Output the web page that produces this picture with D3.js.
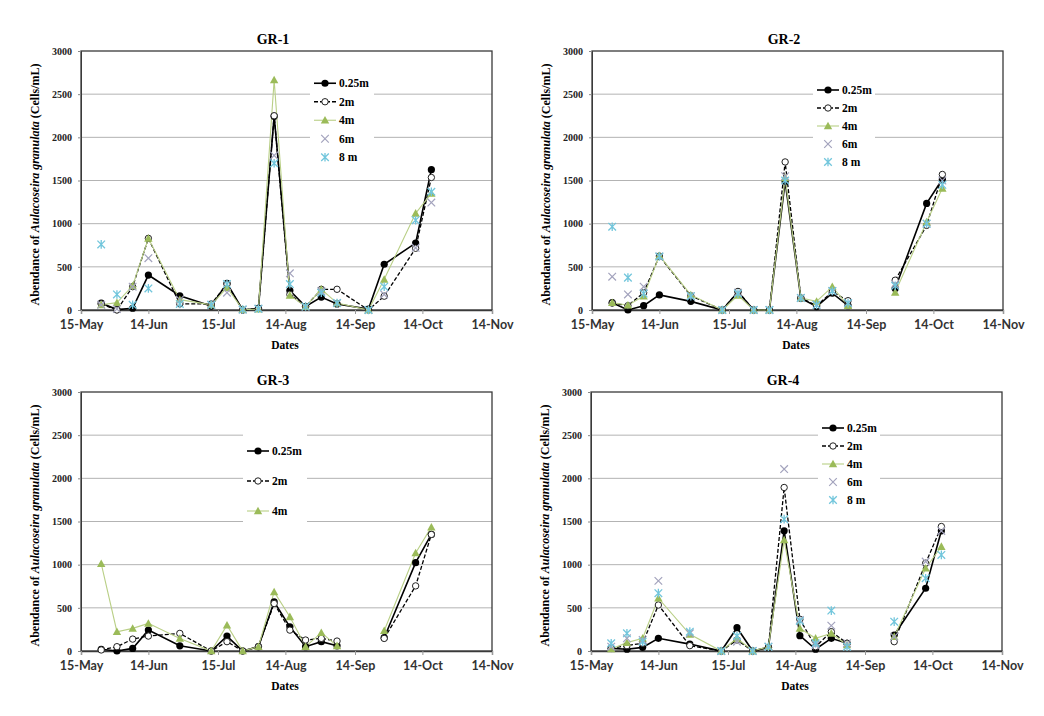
<!DOCTYPE html>
<html><head><meta charset="utf-8">
<script src="https://cdn.jsdelivr.net/npm/d3@7"></script>
<style>
body{margin:0;background:#fff;}
svg{display:block;}
</style></head>
<body>
<svg id="chart" width="1044" height="716"></svg>
<script>
// ---- data ----
const sampleDates = ["2013-05-24","2013-05-31","2013-06-07","2013-06-14","2013-06-28","2013-07-12","2013-07-19","2013-07-26","2013-08-02","2013-08-09","2013-08-16","2013-08-23","2013-08-30","2013-09-06","2013-09-20","2013-09-27","2013-10-11","2013-10-18"];
const tickDates = ["2013-05-15","2013-06-14","2013-07-15","2013-08-14","2013-09-14","2013-10-14","2013-11-14"];
const yTicks = [0,500,1000,1500,2000,2500,3000];
const depthNames = ["0.25m","2m","4m","6m","8 m"];
const panelTitles = ["GR-1","GR-2","GR-3","GR-4"];

const gr1_025 = [80,5,20,405,165,45,310,0,20,2245,225,40,150,70,10,530,775,1625];
const gr1_2m  = [70,0,270,830,70,70,300,0,20,2250,180,40,240,240,0,160,715,1535];
const gr1_4m  = [60,85,280,830,120,60,260,5,10,2665,170,40,240,80,0,355,1120,1350];
const gr1_6m  = [60,10,270,600,120,60,200,5,15,1790,425,40,220,80,0,180,720,1245];
const gr1_8m  = [760,180,60,250,70,60,300,5,15,1700,300,40,200,80,0,270,1040,1370];

const gr2_025 = [85,0,50,175,100,0,210,0,0,1490,135,40,195,50,null,250,1235,1515];
const gr2_2m  = [80,50,200,625,165,0,215,0,0,1715,140,50,210,108,null,345,980,1570];
const gr2_4m  = [85,55,160,630,175,0,170,0,0,1530,140,100,270,50,null,205,1020,1410];
const gr2_6m  = [386,180,270,620,160,0,200,0,0,1550,140,60,220,80,null,300,1000,1500];
const gr2_8m  = [965,375,190,620,160,0,190,0,0,1500,140,60,220,80,null,280,1000,1450];

const gr3_025 = [20,0,30,242,60,0,173,0,50,570,280,50,108,60,null,154,1023,1350];
const gr3_2m  = [12,50,138,173,204,0,108,0,50,550,242,127,146,115,null,146,754,1350];
const gr3_4m  = [1012,223,262,320,146,0,300,0,50,685,396,50,212,60,null,235,1135,1435];

const gr4_025 = [30,20,42,147,80,0,270,0,42,1392,178,20,147,90,null,185,727,1392];
const gr4_2m  = [30,62,90,533,62,0,128,0,42,1894,367,50,224,90,null,108,1017,1442];
const gr4_4m  = [23,97,147,611,193,0,147,0,50,1287,263,147,205,70,null,166,959,1210];
const gr4_6m  = [50,147,128,812,205,0,108,0,50,2107,360,70,294,90,null,166,1036,1390];
const gr4_8m  = [90,205,108,670,224,0,174,0,50,1527,348,90,468,50,null,340,843,1113];

// ---- styles ----
const parse = d3.timeParse("%Y-%m-%d");
const dates = sampleDates.map(parse);
const ticks = tickDates.map(parse);
const SERIF = "'Liberation Serif','Times New Roman',serif";
const SANS = "Lato,'Open Sans',sans-serif";

const styles = [
  {name:depthNames[0], line:true, stroke:"#000", width:1.6, dash:null, marker:"circleFill"},
  {name:depthNames[1], line:true, stroke:"#000", width:1.3, dash:"4,2", marker:"circleOpen"},
  {name:depthNames[2], line:true, stroke:"#b9cf86", width:1.1, dash:null, marker:"tri"},
  {name:depthNames[3], line:false, stroke:"#a3a3bd", width:1, dash:null, marker:"x"},
  {name:depthNames[4], line:false, stroke:"#72c6dc", width:1, dash:null, marker:"star"}
];

const panels = [
  {title:panelTitles[0], left:81, top:51, series:[gr1_025,gr1_2m,gr1_4m,gr1_6m,gr1_8m], legend:{x:310,y:72,w:64,gap:18.5}},
  {title:panelTitles[1], left:592, top:51, series:[gr2_025,gr2_2m,gr2_4m,gr2_6m,gr2_8m], legend:{x:813,y:79,w:62,gap:18}},
  {title:panelTitles[2], left:81, top:392, series:[gr3_025,gr3_2m,gr3_4m], legend:{x:243,y:434,w:64,gap:30}},
  {title:panelTitles[3], left:591, top:392, series:[gr4_025,gr4_2m,gr4_4m,gr4_6m,gr4_8m], legend:{x:818,y:417,w:62,gap:18}}
];
const W = 411, H = 259;

const svg = d3.select("#chart");

function drawMarker(g, type, cx, cy, st) {
  if (type === "circleFill") {
    g.append("circle").attr("cx",cx).attr("cy",cy).attr("r",3.6).attr("fill","#000");
  } else if (type === "circleOpen") {
    g.append("circle").attr("cx",cx).attr("cy",cy).attr("r",3.2).attr("fill","#fff").attr("stroke","#222").attr("stroke-width",1);
  } else if (type === "tri") {
    const s = 4.2;
    g.append("path").attr("d",`M${cx},${cy-s}L${cx+s},${cy+s*0.8}L${cx-s},${cy+s*0.8}Z`).attr("fill","#9bbb59");
  } else if (type === "x") {
    const s = 3.8;
    g.append("path").attr("d",`M${cx-s},${cy-s}L${cx+s},${cy+s}M${cx-s},${cy+s}L${cx+s},${cy-s}`).attr("stroke",st.stroke).attr("stroke-width",1.2);
  } else if (type === "star") {
    const s = 3.8;
    g.append("path").attr("d",`M${cx-s},${cy-s}L${cx+s},${cy+s}M${cx-s},${cy+s}L${cx+s},${cy-s}M${cx},${cy-s-0.5}L${cx},${cy+s+0.5}`).attr("stroke",st.stroke).attr("stroke-width",1.3);
  }
}

panels.forEach(p => {
  const x = d3.scaleTime().domain([ticks[0], ticks[ticks.length-1]]).range([p.left, p.left+W]);
  const y = d3.scaleLinear().domain([0,3000]).range([p.top+H, p.top]);
  const g = svg.append("g");

  // gridlines
  g.append("g").selectAll("line").data(yTicks.filter(v=>v>0 && v<3000)).join("line")
    .attr("x1",p.left).attr("x2",p.left+W).attr("y1",d=>y(d)).attr("y2",d=>y(d))
    .attr("stroke","#b3b3b3").attr("stroke-width",1);

  // frame
  g.append("rect").attr("x",p.left).attr("y",p.top).attr("width",W).attr("height",H)
    .attr("fill","none").attr("stroke","#3a3a3a").attr("stroke-width",1.3);

  // y axis
  const ya = g.append("g").attr("transform",`translate(${p.left},0)`)
    .call(d3.axisLeft(y).tickValues(yTicks).tickFormat(d3.format("d")).tickSize(3).tickPadding(6));
  ya.select(".domain").attr("stroke","#3a3a3a");
  ya.selectAll(".tick line").attr("stroke","#888");
  ya.selectAll("text").attr("font-family",SERIF).attr("font-weight","bold").attr("font-size",10).attr("fill","#222");

  // x axis
  const xa = g.append("g").attr("transform",`translate(0,${p.top+H})`)
    .call(d3.axisBottom(x).tickValues(ticks).tickFormat(d3.timeFormat("%-d-%b")).tickSize(4).tickPadding(6));
  xa.select(".domain").attr("stroke","#3a3a3a").attr("stroke-width",1.3);
  xa.selectAll(".tick line").attr("stroke","#999");
  xa.selectAll("text").attr("font-family",SANS).attr("font-weight","bold").attr("font-size",12.5).attr("fill","#333");

  // title
  g.append("text").attr("x",p.left+192).attr("y",p.top-7).attr("text-anchor","middle")
    .attr("font-family",SERIF).attr("font-weight","bold").attr("font-size",14).text(p.title);

  // x title
  g.append("text").attr("x",p.left+204).attr("y",p.top+H+39).attr("text-anchor","middle")
    .attr("font-family",SERIF).attr("font-weight","bold").attr("font-size",11.5).text("Dates");

  // y title
  const yt = g.append("text").attr("transform",`translate(${p.left-42},${p.top+H/2+4}) rotate(-90)`)
    .attr("text-anchor","middle").attr("font-family",SERIF).attr("font-weight","bold").attr("font-size",12);
  yt.append("tspan").text("Abendance of ");
  yt.append("tspan").attr("font-style","italic").text("Aulacoseira granulata");
  yt.append("tspan").text(" (Cells/mL)");

  // series lines
  p.series.forEach((vals, i) => {
    const st = styles[i];
    const pts = vals.map((v,k)=>({d:dates[k], v:v}));
    if (st.line) {
      const line = d3.line().defined(d=>d.v!=null).x(d=>x(d.d)).y(d=>y(d.v));
      g.append("path").datum(pts).attr("d",line).attr("fill","none")
        .attr("stroke",st.stroke).attr("stroke-width",st.width).attr("stroke-dasharray",st.dash);
    }
  });
  // markers
  p.series.forEach((vals, i) => {
    const st = styles[i];
    const mg = g.append("g");
    vals.forEach((v,k)=>{ if (v!=null) drawMarker(mg, st.marker, x(dates[k]), y(v), st); });
  });

  // legend
  const L = p.legend;
  const n = p.series.length;
  const lg = g.append("g");
  lg.append("rect").attr("x",L.x).attr("y",L.y).attr("width",L.w).attr("height",L.gap*n+4).attr("fill","#fff");
  for (let i=0;i<n;i++){
    const st = styles[i];
    const cy = L.y + L.gap*(i+0.5) + 2;
    if (st.line) {
      lg.append("line").attr("x1",L.x+4).attr("x2",L.x+26).attr("y1",cy).attr("y2",cy)
        .attr("stroke",st.stroke).attr("stroke-width",st.width).attr("stroke-dasharray",st.dash);
    }
    drawMarker(lg, st.marker, L.x+15, cy, st);
    lg.append("text").attr("x",L.x+29).attr("y",cy+4).attr("font-family",SERIF).attr("font-weight","bold")
      .attr("font-size",11.5).text(st.name);
  }
});
</script>
</body></html>
